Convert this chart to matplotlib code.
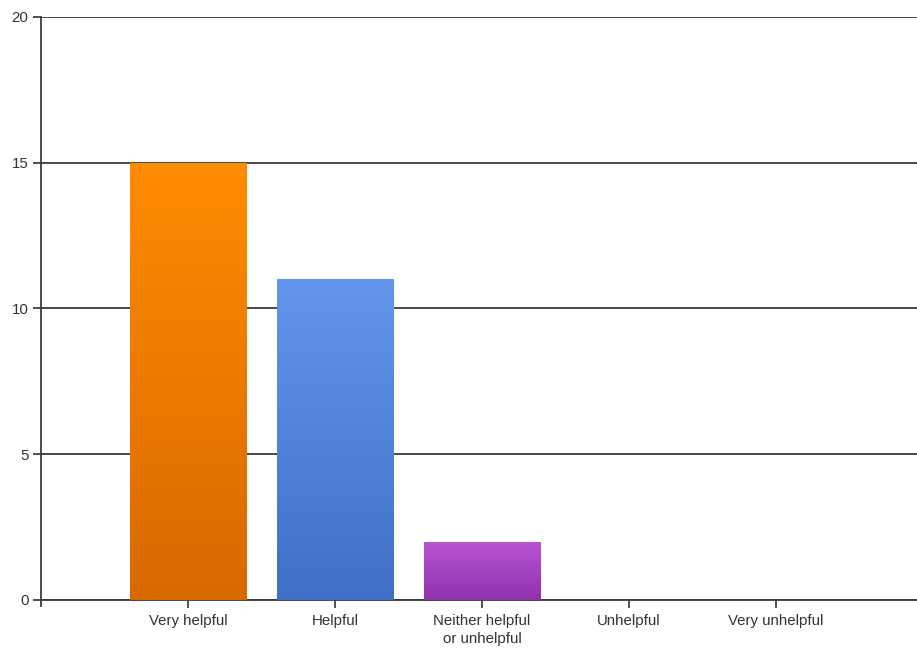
import numpy as np
import matplotlib.pyplot as plt
from matplotlib.colors import LinearSegmentedColormap

categories = ["Very helpful", "Helpful", "Neither helpful\nor unhelpful", "Unhelpful", "Very unhelpful"]
counts = [15, 11, 2, 0, 0]
top_colors = ["#ff8c00", "#6495ed", "#ba55d3", "#ff8c00", "#6495ed"]
bottom_colors = ["#d96800", "#3f6fc6", "#9030ad", "#d96800", "#3f6fc6"]
yticks = [0, 5, 10, 15, 20]

plt.rcParams['font.family'] = ['Liberation Sans', 'DejaVu Sans']

fig = plt.figure(figsize=(9.17, 6.48), dpi=100)
ax = fig.add_axes([0.0447, 0.0741, 0.9553, 0.8997])

x = np.arange(1, len(categories) + 1)
bars = ax.bar(x, counts, width=0.79, color="none", edgecolor="none", zorder=3)

# vertical gradient fill inside each bar
grad = np.linspace(0, 1, 256).reshape(-1, 1)
for b, c_top, c_bot in zip(bars, top_colors, bottom_colors):
    if b.get_height() <= 0:
        continue
    cmap = LinearSegmentedColormap.from_list("g", [c_bot, c_top])
    x0, y0 = b.get_x(), b.get_y()
    im = ax.imshow(grad, cmap=cmap, origin="lower", aspect="auto",
                   extent=(x0, x0 + b.get_width(), y0, y0 + b.get_height()),
                   zorder=3, interpolation="bilinear")
    im.set_clip_path(b)

ax.set_xlim(0, 5.96)
ax.set_ylim(0, 20)
ax.set_yticks(yticks)
ax.set_xticks(x)
ax.set_xticklabels(categories, fontsize=10.8, color="#333333", linespacing=1.4)
ax.tick_params(axis="y", labelsize=10.8, labelcolor="#333333", length=6, width=1.2, color="#333333", pad=3)
ax.tick_params(axis="x", length=6, width=1.2, color="#333333", pad=4)

ax.yaxis.grid(True, color="#3a3a3a", linewidth=1.3, zorder=1)
ax.set_axisbelow(True)

for side in ["top", "right"]:
    ax.spines[side].set_visible(False)
ax.spines["left"].set_color("#3a3a3a")
ax.spines["left"].set_linewidth(1.3)
ax.spines["left"].set_bounds(-0.2, 20)
ax.spines["bottom"].set_color("#3a3a3a")
ax.spines["bottom"].set_linewidth(1.3)
ax.spines["left"].set_clip_on(False)

fig.savefig("out.png", dpi=100)
